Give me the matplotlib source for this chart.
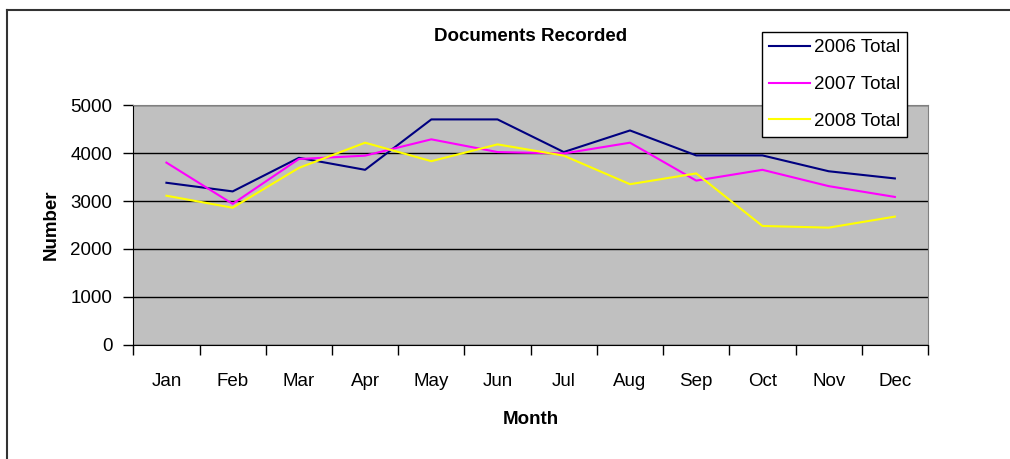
import matplotlib.pyplot as plt
import numpy as np
from matplotlib.lines import Line2D

plt.rcParams['font.family'] = ['Liberation Sans', 'DejaVu Sans']

months = ["Jan", "Feb", "Mar", "Apr", "May", "Jun",
          "Jul", "Aug", "Sep", "Oct", "Nov", "Dec"]
total_2006 = [3380, 3200, 3900, 3650, 4700, 4700, 4020, 4470, 3950, 3950, 3620, 3470]
total_2007 = [3800, 2940, 3875, 3945, 4285, 4020, 3990, 4215, 3425, 3650, 3310, 3085]
total_2008 = [3110, 2860, 3690, 4215, 3830, 4180, 3945, 3350, 3575, 2480, 2445, 2675]

fig = plt.figure(figsize=(10.1, 4.59), dpi=100)
ax = fig.add_axes([0.132, 0.2484, 0.7868, 0.5228])
ax.set_facecolor("#C0C0C0")

x = np.arange(len(months))
ax.plot(x, total_2006, color="#000080", lw=1.5, label="2006 Total")
ax.plot(x, total_2007, color="#FF00FF", lw=1.5, label="2007 Total")
ax.plot(x, total_2008, color="#FFFF00", lw=1.5, label="2008 Total")

ax.set_xlim(-0.5, 11.5)
ax.set_ylim(0, 5000)
ax.set_yticks(np.arange(0, 5001, 1000))
ax.yaxis.grid(True, color="black", lw=1)
ax.set_axisbelow(True)

ax.set_xticks(x)
ax.set_xticklabels(months)
ax.set_xticks(np.arange(-0.5, 12, 1), minor=True)
ax.tick_params(axis="x", which="major", length=0, pad=20, labelsize=13.5)
ax.tick_params(axis="x", which="minor", length=7, width=1, direction="out")
ax.tick_params(axis="y", length=7, width=1, pad=8, labelsize=13.5)

for side in ["top", "right"]:
    ax.spines[side].set_color("#808080")
for side in ["left", "bottom"]:
    ax.spines[side].set_color("black")

ax.set_xlabel("Month", fontsize=13.5, fontweight="bold", labelpad=15)
ax.set_ylabel("Number", fontsize=13.5, fontweight="bold", labelpad=8)
fig.text(0.525, 0.92, "Documents Recorded", ha="center", va="center",
         fontsize=13.5, fontweight="bold")

leg = ax.legend(loc="upper left", bbox_to_anchor=(0.791, 1.304), fontsize=13.5,
                frameon=True, fancybox=False, handlelength=2.2, handletextpad=0.2,
                labelspacing=1.05, borderpad=0.38, borderaxespad=0)
leg.get_frame().set_edgecolor("black")
leg.get_frame().set_linewidth(1)
leg.get_frame().set_alpha(1)

# chart border (only top and left edges visible in the crop)
fig.add_artist(Line2D([7 / 1010, 1], [1 - 10 / 459, 1 - 10 / 459], color="#333333", lw=1.5))
fig.add_artist(Line2D([7 / 1010, 7 / 1010], [0, 1 - 10 / 459], color="#333333", lw=1.5))

fig.savefig("out.png", dpi=100)
